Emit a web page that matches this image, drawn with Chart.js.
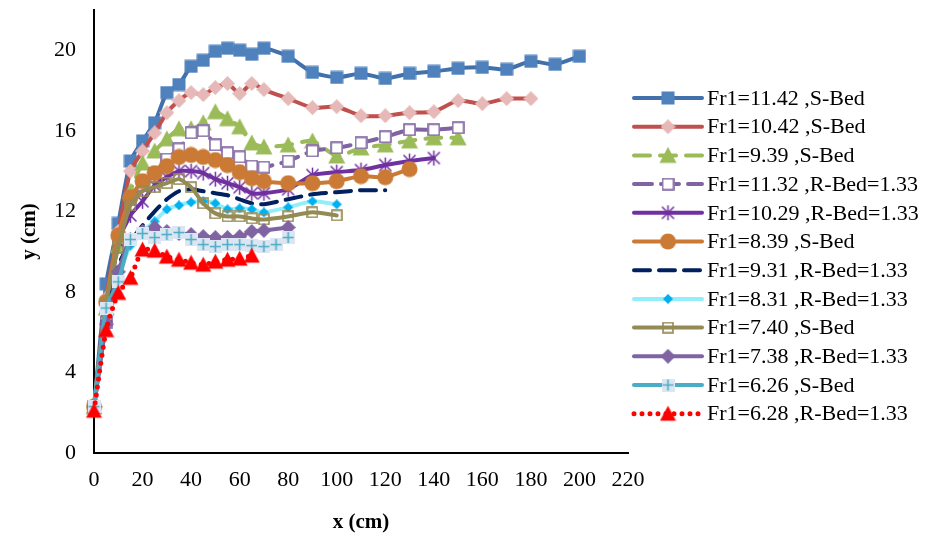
<!DOCTYPE html>
<html>
<head>
<meta charset="utf-8">
<script src="https://cdn.jsdelivr.net/npm/chart.js@4.4.1/dist/chart.umd.min.js"></script>
<style>
  html, body { margin: 0; padding: 0; background: #fff; }
  #wrap { width: 926px; height: 539px; }
</style>
</head>
<body>
<div id="wrap"><canvas id="chart" width="926" height="539"></canvas></div>
<script>
// series names
const seriesNames = [
  "Fr1=11.42 ,S-Bed",
  "Fr1=10.42 ,S-Bed",
  "Fr1=9.39 ,S-Bed",
  "Fr1=11.32 ,R-Bed=1.33",
  "Fr1=10.29 ,R-Bed=1.33",
  "Fr1=8.39 ,S-Bed",
  "Fr1=9.31 ,R-Bed=1.33",
  "Fr1=8.31 ,R-Bed=1.33",
  "Fr1=7.40 ,S-Bed",
  "Fr1=7.38 ,R-Bed=1.33",
  "Fr1=6.26 ,S-Bed",
  "Fr1=6.28 ,R-Bed=1.33",
];

// x (cm) and y (cm) values
const x1 = [0, 5, 10, 15, 20, 25, 30, 35, 40, 45, 50, 55, 60, 65, 70, 80, 90, 100, 110, 120, 130, 140, 150, 160, 170, 180, 190, 200];
const y1 = [2.3, 8.4, 11.4, 14.5, 15.5, 16.4, 17.9, 18.3, 19.2, 19.5, 19.95, 20.1, 20.0, 19.8, 20.1, 19.7, 18.9, 18.65, 18.85, 18.6, 18.85, 18.95, 19.1, 19.15, 19.05, 19.45, 19.3, 19.7];

const x2 = [0, 5, 10, 15, 20, 25, 30, 35, 40, 45, 50, 55, 60, 65, 70, 80, 90, 100, 110, 120, 130, 140, 150, 160, 170, 180];
const y2 = [2.3, 7.7, 11.0, 14.0, 15.0, 15.9, 16.9, 17.5, 17.9, 17.8, 18.15, 18.35, 17.85, 18.35, 18.05, 17.6, 17.15, 17.2, 16.75, 16.75, 16.9, 16.95, 17.5, 17.35, 17.6, 17.6];

const x3 = [0, 5, 10, 15, 20, 25, 30, 35, 40, 45, 50, 55, 60, 65, 70, 80, 90, 100, 110, 120, 130, 140, 150];
const y3 = [2.3, 7.2, 10.3, 13.0, 14.4, 15.0, 15.6, 16.1, 16.1, 16.4, 16.95, 16.6, 16.2, 15.4, 15.2, 15.3, 15.5, 14.75, 15.15, 15.3, 15.5, 15.65, 15.65];

const x4 = [0, 5, 10, 15, 20, 25, 30, 35, 40, 45, 50, 55, 60, 65, 70, 80, 90, 100, 110, 120, 130, 140, 150];
const y4 = [2.3, 6.5, 10.6, 12.6, 13.3, 13.9, 14.6, 15.1, 15.9, 16.0, 15.3, 14.9, 14.7, 14.25, 14.2, 14.5, 15.0, 15.15, 15.4, 15.7, 16.05, 16.05, 16.15];

const x5 = [0, 5, 10, 15, 20, 25, 30, 35, 40, 45, 50, 55, 60, 65, 70, 80, 90, 100, 110, 120, 130, 140];
const y5 = [2.3, 6.8, 10.5, 11.8, 12.5, 13.3, 13.7, 14.0, 14.0, 13.9, 13.6, 13.4, 13.2, 12.9, 12.9, 13.1, 13.8, 13.95, 14.05, 14.3, 14.5, 14.65];

const x6 = [0, 5, 10, 15, 20, 25, 30, 35, 40, 45, 50, 55, 60, 65, 70, 80, 90, 100, 110, 120, 130];
const y6 = [2.3, 7.5, 10.8, 12.7, 13.5, 13.9, 14.25, 14.7, 14.8, 14.7, 14.55, 14.3, 13.95, 13.65, 13.5, 13.4, 13.4, 13.5, 13.75, 13.7, 14.1];

const x7 = [0, 5, 10, 15, 20, 25, 30, 35, 40, 45, 50, 55, 60, 65, 70, 80, 90, 100, 110, 120];
const y7 = [2.3, 6.8, 9.3, 10.5, 11.3, 12.0, 12.6, 13.0, 13.1, 13.0, 12.9, 12.8, 12.6, 12.4, 12.35, 12.6, 12.85, 12.95, 13.05, 13.05];

const x8 = [0, 5, 10, 15, 20, 25, 30, 35, 40, 45, 50, 55, 60, 65, 70, 80, 90, 100];
const y8 = [2.3, 6.5, 8.7, 10.3, 11.0, 11.5, 12.1, 12.3, 12.45, 12.5, 12.4, 12.1, 12.15, 12.1, 11.95, 12.2, 12.5, 12.35];

const x9 = [0, 5, 10, 15, 20, 25, 30, 35, 40, 45, 50, 55, 60, 65, 70, 80, 90, 100];
const y9 = [2.3, 7.4, 10.2, 12.3, 13.0, 13.2, 13.4, 13.6, 13.2, 12.4, 11.9, 11.75, 11.75, 11.65, 11.6, 11.75, 11.95, 11.8];

const x10 = [0, 5, 10, 15, 20, 25, 30, 35, 40, 45, 50, 55, 60, 65, 70, 80];
const y10 = [2.3, 6.4, 9.0, 10.6, 11.0, 11.2, 11.0, 10.9, 10.85, 10.75, 10.7, 10.7, 10.75, 11.0, 11.05, 11.2];

const x11 = [0, 5, 10, 15, 20, 25, 30, 35, 40, 45, 50, 55, 60, 65, 70, 75, 80];
const y11 = [2.3, 7.2, 8.5, 10.6, 10.9, 10.7, 10.85, 10.95, 10.6, 10.35, 10.25, 10.35, 10.35, 10.3, 10.25, 10.35, 10.7];

const x12 = [0, 5, 10, 15, 20, 25, 30, 35, 40, 45, 50, 55, 60, 65];
const y12 = [2.1, 6.1, 7.95, 8.7, 10.1, 10.05, 9.75, 9.6, 9.45, 9.35, 9.5, 9.6, 9.65, 9.8];

const xTicks = [0, 20, 40, 60, 80, 100, 120, 140, 160, 180, 200, 220];
const yTicks = [0, 4, 8, 12, 16, 20];

const xSets = [x1, x2, x3, x4, x5, x6, x7, x8, x9, x10, x11, x12];
const ySets = [y1, y2, y3, y4, y5, y6, y7, y8, y9, y10, y11, y12];

// marker images, drawn once
function marker(size, paint) {
  const c = document.createElement("canvas");
  c.width = size;
  c.height = size;
  paint(c.getContext("2d"), size);
  return c;
}
function square(fill, stroke) {
  return (g, s) => {
    if (fill) { g.fillStyle = fill; g.fillRect(0.5, 0.5, s - 1, s - 1); }
    if (stroke) { g.strokeStyle = stroke; g.lineWidth = 1.6; g.strokeRect(1, 1, s - 2, s - 2); }
  };
}
function diamond(fill) {
  return (g, s) => {
    g.fillStyle = fill;
    g.beginPath();
    g.moveTo(s / 2, 0); g.lineTo(s, s / 2); g.lineTo(s / 2, s); g.lineTo(0, s / 2);
    g.closePath(); g.fill();
  };
}
function triangle(fill) {
  return (g, s) => {
    g.fillStyle = fill;
    g.beginPath();
    g.moveTo(s / 2, 0.5); g.lineTo(s - 0.5, s - 1.5); g.lineTo(0.5, s - 1.5);
    g.closePath(); g.fill();
  };
}

const markers = [
  marker(14, square("#4F81BD")),
  marker(15, diamond("#E6B9B8")),
  marker(18, triangle("#9BBB59")),
  marker(13, square("#FFFFFF", "#8064A2")),
  marker(17, (g, s) => {
    g.strokeStyle = "#7030A0"; g.lineWidth = 1.5;
    g.beginPath();
    g.moveTo(s / 2, 1); g.lineTo(s / 2, s - 1);
    g.moveTo(2.5, 2.5); g.lineTo(s - 2.5, s - 2.5);
    g.moveTo(s - 2.5, 2.5); g.lineTo(2.5, s - 2.5);
    g.stroke();
  }),
  marker(17, (g, s) => {
    g.fillStyle = "#CB7A36";
    g.beginPath(); g.arc(s / 2, s / 2, s / 2 - 0.5, 0, Math.PI * 2); g.fill();
  }),
  null,
  marker(10, diamond("#00B0F0")),
  marker(12, square(null, "#948A54")),
  marker(15, diamond("#8064A2")),
  marker(13, (g, s) => {
    g.fillStyle = "#DCE6F2"; g.fillRect(0, 0, s, s);
    g.strokeStyle = "#4BACC6"; g.lineWidth = 1.6;
    g.beginPath();
    g.moveTo(s / 2, 1); g.lineTo(s / 2, s - 1);
    g.moveTo(1, s / 2); g.lineTo(s - 1, s / 2);
    g.stroke();
  }),
  marker(17, triangle("#FF0000")),
];

const lineColors = ["#4170AA", "#C0504D", "#9BBB59", "#8064A2", "#7030A0", "#CB7A36",
  "#002060", "#93EEFB", "#948A54", "#8064A2", "#4BACC6", "#FF0000"];
const lineDashes = [[], [], [16, 10], [18, 9], [], [], [16, 9], [], [], [], [], [0, 8]];

const datasets = seriesNames.map((name, i) => ({
  label: name,
  data: xSets[i].map((x, j) => ({ x: x, y: ySets[i][j] })),
  borderColor: lineColors[i],
  backgroundColor: lineColors[i],
  borderWidth: i === 11 ? 5 : 4,
  borderDash: lineDashes[i],
  borderCapStyle: "round",
  borderJoinStyle: "round",
  tension: 0.2,
  pointStyle: markers[i] || "circle",
  pointRadius: markers[i] ? 5 : 0,
  pointHoverRadius: markers[i] ? 5 : 0,
  order: 12 - i,
  clip: false,
}));

// Excel-like legend: line sample with the marker in the middle
const sideLegend = {
  id: "sideLegend",
  afterDraw(chart) {
    const ctx = chart.ctx;
    const left = 634, right = 702, textX = 707, top = 98, step = 28.7;
    ctx.save();
    chart.data.datasets.forEach((ds, i) => {
      const y = top + i * step;
      ctx.strokeStyle = ds.borderColor;
      ctx.lineWidth = ds.borderWidth;
      ctx.lineCap = "round";
      ctx.setLineDash(ds.borderDash);
      ctx.beginPath();
      ctx.moveTo(left, y);
      ctx.lineTo(right, y);
      ctx.stroke();
      ctx.setLineDash([]);
      const m = markers[i];
      if (m) ctx.drawImage(m, (left + right) / 2 - m.width / 2, y - m.height / 2);
      ctx.fillStyle = "#000";
      ctx.font = "22px 'Liberation Serif'";
      ctx.textBaseline = "middle";
      ctx.textAlign = "left";
      ctx.fillText(ds.label, textX, y + 1);
    });
    ctx.restore();
  },
};

new Chart(document.getElementById("chart"), {
  type: "line",
  data: { datasets: datasets },
  plugins: [sideLegend],
  options: {
    responsive: false,
    animation: false,
    events: [],
    layout: { padding: { left: 0, right: 298, top: 10, bottom: 0 } },
    plugins: { legend: { display: false }, tooltip: { enabled: false } },
    scales: {
      x: {
        type: "linear",
        min: 0,
        max: 220,
        afterBuildTicks: (axis) => { axis.ticks = xTicks.map((v) => ({ value: v })); },
        afterFit: (axis) => { axis.height = 86; axis.paddingLeft = 0; axis.paddingRight = 0; },
        grid: { display: false, drawTicks: false },
        border: { display: true, color: "#000", width: 2 },
        ticks: { color: "#000", padding: 14, font: { family: "Liberation Serif", size: 22 } },
        title: {
          display: true,
          text: "x (cm)",
          color: "#000",
          padding: { top: 0, bottom: 4 },
          font: { family: "Liberation Serif", size: 21, weight: "bold" },
        },
      },
      y: {
        type: "linear",
        min: 0,
        max: 22,
        afterBuildTicks: (axis) => { axis.ticks = yTicks.map((v) => ({ value: v })); },
        afterFit: (axis) => { axis.width = 94; axis.paddingTop = 0; axis.paddingBottom = 0; },
        grid: { display: false, drawTicks: false },
        border: { display: true, color: "#000", width: 2 },
        ticks: { color: "#000", padding: 18, font: { family: "Liberation Serif", size: 22 } },
        title: {
          display: true,
          text: "y (cm)",
          color: "#000",
          padding: { top: 17, bottom: 0 },
          font: { family: "Liberation Serif", size: 21, weight: "bold" },
        },
      },
    },
  },
});
</script>
</body>
</html>
